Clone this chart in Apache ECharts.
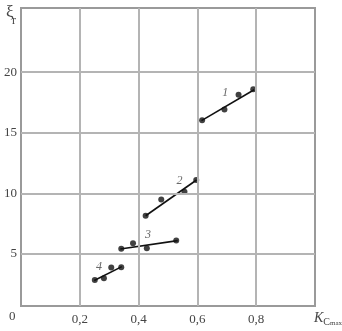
<!DOCTYPE html>
<html><head><meta charset="utf-8">
<script src="https://cdn.jsdelivr.net/npm/echarts@6/dist/echarts.min.js"></script>
<style>html,body{margin:0;padding:0;background:#fff}#c{width:342px;height:331px}</style>
</head><body><div id="c"></div>
<script>
// x ticks and y ticks
const xTicks = [0.2, 0.4, 0.6, 0.8];
const xTickLabels = ['0,2', '0,4', '0,6', '0,8'];
const yTicks = [5, 10, 15, 20];
// measured points for each curve (K_c max, xi_r)
const pts1 = [[0.616, 16.04], [0.692, 16.93], [0.740, 18.13], [0.790, 18.6]];
const pts2 = [[0.424, 8.15], [0.477, 9.5], [0.556, 10.13], [0.596, 11.1]];
const pts3 = [[0.341, 5.43], [0.381, 5.88], [0.428, 5.47], [0.528, 6.1]];
const pts4 = [[0.251, 2.85], [0.282, 3.0], [0.307, 3.87], [0.341, 3.9]];
// fitted straight lines (endpoints)
const fit1 = [[0.614, 16.0], [0.793, 18.55]];
const fit2 = [[0.424, 8.15], [0.597, 11.1]];
const fit3 = [[0.338, 5.4], [0.533, 6.1]];
const fit4 = [[0.249, 2.8], [0.343, 3.95]];
// curve number labels
const curveNames = ['1', '2', '3', '4'];
const curveLabelPos = [[0.695, 18.3], [0.539, 11.0], [0.432, 6.56], [0.265, 3.9]];

const chart = echarts.init(document.getElementById('c'));
const serif = '"Liberation Serif", "DejaVu Serif", serif';
const gridColor = '#b4b4b4';
const lineSeries = (d) => ({type: 'line', data: d, symbol: 'none', silent: true,
  lineStyle: {color: '#111', width: 1.6}, z: 3});
const ptSeries = (d) => ({type: 'scatter', data: d, symbolSize: 6, itemStyle: {color: '#111'}, z: 4});
chart.setOption({
  animation: false,
  grid: {left: 21, top: 8, width: 294, height: 298, show: true, borderColor: '#9a9a9a', borderWidth: 2},
  xAxis: {type: 'value', min: 0, max: 1.0,
    axisLine: {show: false}, axisTick: {show: false}, splitLine: {show: false},
    axisLabel: {show: true, customValues: xTicks, margin: 7, color: '#444', fontFamily: serif, fontSize: 13,
      formatter: (v) => xTickLabels[xTicks.findIndex(t => Math.abs(t - v) < 1e-6)] || ''}},
  yAxis: {type: 'value', min: 0.7, max: 25.3,
    axisLine: {show: false}, axisTick: {show: false}, splitLine: {show: false},
    axisLabel: {show: true, customValues: yTicks, margin: 4, color: '#444', fontFamily: serif, fontSize: 13}},
  series: [
    {type: 'line', data: [], silent: true,
      markLine: {silent: true, symbol: 'none', label: {show: false},
        lineStyle: {color: gridColor, width: 2, type: 'solid'},
        data: xTicks.map(v => ({xAxis: v})).concat(yTicks.map(v => ({yAxis: v})))}},
    lineSeries(fit1), lineSeries(fit2), lineSeries(fit3), lineSeries(fit4),
    ptSeries(pts1), ptSeries(pts2), ptSeries(pts3), ptSeries(pts4),
    {type: 'scatter', symbolSize: 0, silent: true,
      data: curveLabelPos.map((p, i) => ({value: p, name: curveNames[i]})),
      label: {show: true, position: 'inside', formatter: '{b}', fontFamily: serif, fontStyle: 'italic',
        fontSize: 12, color: '#444'}}
  ],
  graphic: [
    {type: 'text', left: 9, top: 310, style: {text: '0', font: '13px ' + serif, fill: '#444'}},
    {type: 'text', left: 6, top: 4, style: {text: 'ξ', font: '17px ' + serif, fill: '#444'}},
    {type: 'text', left: 12, top: 15, style: {text: 'r', font: '12px ' + serif, fill: '#444'}},
    {type: 'text', left: 314, top: 311, style: {
      text: '{a|K}{c|C}{b|max}', rich: {
        a: {fontFamily: serif, fontSize: 14, fontStyle: 'italic', fill: '#444'},
        c: {fontFamily: serif, fontSize: 10, fill: '#444', padding: [8, 0, 0, 0]},
        b: {fontFamily: serif, fontSize: 7, fill: '#444', padding: [11, 0, 0, 0]}}}}
  ]
});
</script></body></html>
